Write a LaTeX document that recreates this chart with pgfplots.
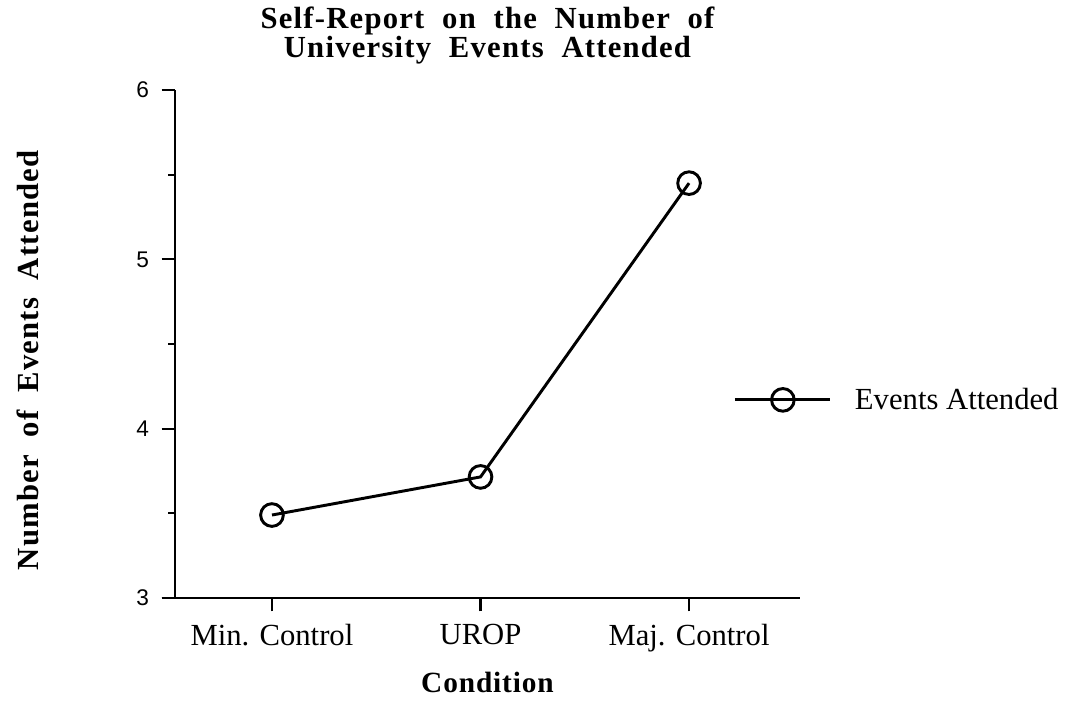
\documentclass[border=0pt]{standalone}
\usepackage{fontspec}
\setmainfont{Liberation Serif}
\setsansfont{Liberation Sans}
\newfontfamily\ttlfont{Liberation Serif}[LetterSpace=4,WordSpace=2]
\newfontfamily\ylabfont{Liberation Serif}[LetterSpace=4,WordSpace=2]
\newfontfamily\xlabfont{Liberation Serif}[LetterSpace=3]
\usepackage{pgfplots}
\pgfplotsset{compat=1.18}

\begin{document}
\begin{tikzpicture}
\begin{axis}[
    scale only axis,
    width=468.75pt,
    height=381pt,
    xmin=-0.465, xmax=2.532,
    ymin=3, ymax=6,
    axis x line=bottom,
    axis y line=left,
    axis line style={-, line width=2pt},
    x axis line style={shorten <=-10pt},
    xtick={0,1,2},
    xticklabels={Min. Control, UROP, Maj. Control},
    ytick={3,4,5,6},
    minor y tick num=1,
    tick align=outside,
    major tick length=10pt,
    minor tick length=5pt,
    tick style={black, line width=1.6pt},
    xticklabel style={font=\fontsize{23}{24}\selectfont, yshift=-6pt},
    yticklabel style={font=\sffamily\fontsize{17}{18}\selectfont, xshift=-6pt},
    /pgf/number format/assume math mode=true,
    title={Self-Report on the Number of\\University Events Attended},
    title style={font=\ttlfont\bfseries\fontsize{23}{20.5}\selectfont,
        align=center, at={(axis description cs:0.5,1)}, anchor=south, yshift=10pt},
    xlabel={Condition},
    xlabel style={font=\xlabfont\bfseries\fontsize{22}{22}\selectfont,
        at={(axis description cs:0.5,-0.166)}, anchor=center},
    ylabel={Number of Events Attended},
    ylabel style={font=\ylabfont\bfseries\fontsize{23}{22}\selectfont,
        at={(axis description cs:-0.235,0.468)}, anchor=center, rotate=0},
    legend style={draw=none, fill=none, at={(axis description cs:0.893,0.39)},
        anchor=west, font=\fontsize{23}{24}\selectfont, inner sep=0pt,
        /tikz/every even column/.append style={column sep=0pt}},
    legend cell align=left,
    legend image code/.code={
        \draw[#1, mark repeat=2, mark phase=2] plot coordinates {(0pt,0pt) (36pt,0pt) (71pt,0pt)};
    },
    clip=false,
]
\addplot[black, line width=2.2pt, mark=o, mark size=8.5pt,
    mark options={fill=white, line width=2.2pt}] coordinates {
    (0,3.49) (1,3.715) (2,5.45)
};
\addlegendentry{\hspace{16pt}Events Attended}
\end{axis}
\path ([shift={(-131.25pt,-84pt)}]current axis.south west)
    rectangle ([shift={(674.25pt,448.5pt)}]current axis.south west);
\end{tikzpicture}
\end{document}
